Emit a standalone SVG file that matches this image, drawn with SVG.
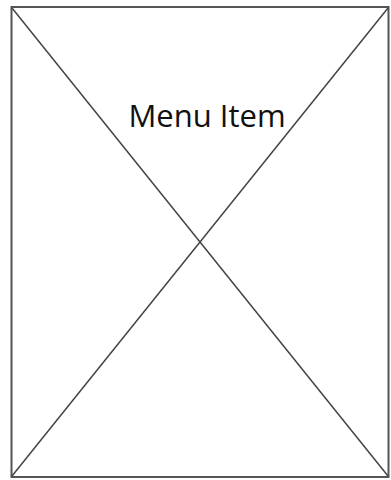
<svg xmlns="http://www.w3.org/2000/svg" width="391" height="480" viewBox="0 0 391 480">
<style>
.frame{fill:#fff;stroke:#555;stroke-width:2}
.line{stroke:#444;stroke-width:1.5;fill:none}
.label{font-family:"Open Sans","Liberation Sans",sans-serif;font-size:31px;fill:#111}
</style>
<rect width="391" height="480" fill="#fff"/>
<g id="menu-item">
<rect class="frame" x="11.5" y="7" width="377" height="470"/>
<g id="connectors">
<line class="line" x1="12" y1="8" x2="388" y2="476"/>
<line class="line" x1="388" y1="8" x2="12" y2="476"/>
</g>
<text class="label" x="207" y="127" text-anchor="middle">Menu Item</text>
</g>
</svg>
